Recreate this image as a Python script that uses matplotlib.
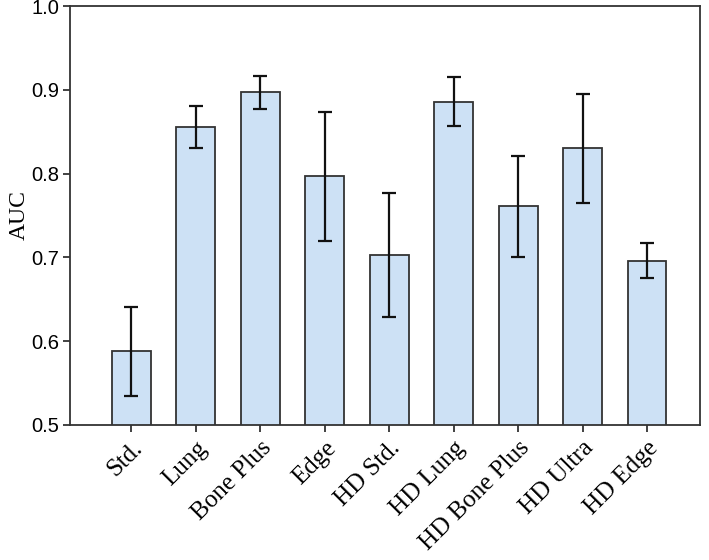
import matplotlib
matplotlib.use("Agg")
import matplotlib.pyplot as plt
import numpy as np

labels = ["Std.", "Lung", "Bone Plus", "Edge", "HD Std.", "HD Lung",
          "HD Bone Plus", "HD Ultra", "HD Edge"]
auc = [0.588, 0.856, 0.897, 0.797, 0.703, 0.886, 0.761, 0.830, 0.696]
err = [0.053, 0.025, 0.020, 0.077, 0.074, 0.029, 0.060, 0.065, 0.021]

fig = plt.figure(figsize=(7.09, 5.60), dpi=100)
ax = fig.add_axes([70 / 709, 1 - 425 / 560, 630 / 709, 419 / 560])

x = np.arange(len(labels))
ax.bar(x, auc, width=0.6, color="#cde1f5", edgecolor="#333333", linewidth=1.3,
       yerr=err, capsize=5, error_kw=dict(ecolor="#111111", elinewidth=1.6, capthick=1.6))

ax.set_ylim(0.5, 1.0)
ax.set_xlim(-0.95, 8.82)
ax.set_yticks([0.5, 0.6, 0.7, 0.8, 0.9, 1.0])
ax.set_yticklabels(["0.5", "0.6", "0.7", "0.8", "0.9", "1.0"],
                   family="Liberation Sans", fontsize=14.5)
ax.set_xticks(x)
ax.set_xticklabels(labels, rotation=45, ha="right", rotation_mode="anchor",
                   family="Liberation Serif", fontsize=18)
ax.set_ylabel("AUC", family="Liberation Serif", fontsize=17)
ax.yaxis.set_label_coords(-0.064, 0.5)

for s in ax.spines.values():
    s.set_linewidth(1.3)
    s.set_color("#333333")
ax.tick_params(axis="both", length=5, width=1.3, color="#333333")
ax.tick_params(axis="y", pad=3)

fig.savefig("out.png", dpi=100)
